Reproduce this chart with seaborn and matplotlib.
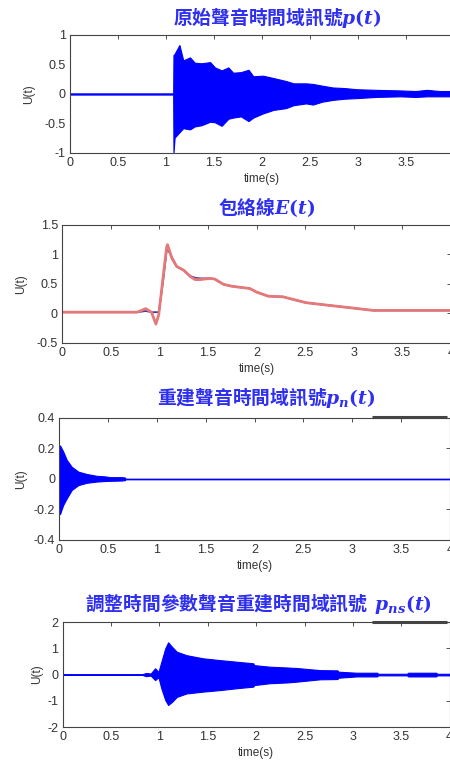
import numpy as np
import matplotlib
matplotlib.use('Agg')
import matplotlib.pyplot as plt
import seaborn as sns
import pandas as pd

# envelope of the recorded signal p(t)
p_t = [0, 1.075, 1.078, 1.09, 1.14, 1.18, 1.25, 1.30, 1.37, 1.46, 1.51, 1.58, 1.65, 1.70, 1.78, 1.86, 1.91,
       2.01, 2.12, 2.25, 2.33, 2.46, 2.53, 2.63, 2.74, 2.86, 2.99, 3.19, 3.44, 3.60, 3.72, 3.85, 4.0]
p_upper = [0.01, 0.01, 0.66, 0.68, 0.83, 0.57, 0.62, 0.53, 0.52, 0.54, 0.45, 0.40, 0.45, 0.36, 0.37, 0.41, 0.30,
           0.31, 0.27, 0.22, 0.18, 0.18, 0.17, 0.14, 0.11, 0.10, 0.08, 0.07, 0.06, 0.05, 0.07, 0.05, 0.05]
p_lower = [-0.01, -0.01, -1.0, -0.74, -0.65, -0.58, -0.60, -0.55, -0.53, -0.47, -0.48, -0.54, -0.42, -0.40, -0.38, -0.46, -0.40,
           -0.33, -0.27, -0.24, -0.19, -0.16, -0.18, -0.13, -0.10, -0.08, -0.07, -0.05, -0.04, -0.05, -0.04, -0.04, -0.04]

# envelope curves E(t)
e_t = [0, 0.77, 0.82, 0.86, 0.92, 0.966, 0.995, 1.04, 1.076, 1.085, 1.13, 1.18, 1.25, 1.32, 1.37,
       1.42, 1.52, 1.57, 1.66, 1.74, 1.83, 1.93, 2.0, 2.12, 2.27, 2.51, 2.72, 2.99, 3.2, 4.0]
e_red = [0.02, 0.02, 0.05, 0.08, 0.02, -0.18, -0.02, 0.62, 1.12, 1.16, 0.93, 0.79, 0.73, 0.62, 0.57,
         0.57, 0.59, 0.58, 0.49, 0.46, 0.44, 0.42, 0.36, 0.29, 0.28, 0.18, 0.14, 0.09, 0.05, 0.05]
e_blue = [0.02, 0.02, 0.03, 0.04, 0.02, 0.02, 0.02, 0.55, 1.06, 1.09, 0.95, 0.79, 0.73, 0.63, 0.60,
          0.59, 0.59, 0.58, 0.49, 0.46, 0.44, 0.42, 0.36, 0.29, 0.28, 0.18, 0.14, 0.09, 0.05, 0.05]

# reconstructed signal pn(t)
n_t = [0, 0.007, 0.04, 0.076, 0.127, 0.195, 0.28, 0.38, 0.47, 0.52, 0.64, 0.67, 0.68, 4.0]
n_upper = [0.21, 0.22, 0.18, 0.125, 0.08, 0.048, 0.033, 0.021, 0.017, 0.012, 0.012, 0.01, 0.002, 0.002]
n_lower = [-0.18, -0.23, -0.17, -0.127, -0.072, -0.04, -0.025, -0.017, -0.013, -0.012, -0.01, -0.008, -0.002, -0.002]

# time adjusted reconstruction pns(t)
s_t = [0, 0.82, 0.86, 0.91, 0.955, 0.99, 1.02, 1.06, 1.09, 1.13, 1.18, 1.28, 1.45, 1.63, 1.80, 1.97, 1.98,
       2.14, 2.32, 2.42, 2.66, 2.84, 2.85, 3.04, 3.25, 3.26, 3.56, 3.57, 3.86, 3.87, 4.0]
s_upper = [0.01, 0.01, 0.06, 0.04, 0.24, 0.10, 0.49, 1.0, 1.23, 1.06, 0.87, 0.74, 0.62, 0.55, 0.49, 0.43, 0.36,
           0.30, 0.27, 0.25, 0.17, 0.16, 0.11, 0.07, 0.07, 0.03, 0.03, 0.07, 0.07, 0.03, 0.03]
s_lower = [-0.01, -0.01, -0.06, -0.04, -0.21, -0.10, -0.53, -0.97, -1.16, -1.04, -0.85, -0.72, -0.65, -0.59, -0.52, -0.46, -0.40,
           -0.33, -0.30, -0.27, -0.18, -0.17, -0.12, -0.07, -0.07, -0.03, -0.03, -0.07, -0.07, -0.03, -0.03]

titles = ['原始聲音時間域訊號$p(t)$', '包絡線$E(t)$', '重建聲音時間域訊號$p_n(t)$', '調整時間參數聲音重建時間域訊號  $p_{ns}(t)$']
ylims = [(-1, 1), (-0.5, 1.5), (-0.4, 0.4), (-2, 2)]
yticks = [[-1, -0.5, 0, 0.5, 1], [-0.5, 0, 0.5, 1, 1.5], [-0.4, -0.2, 0, 0.2, 0.4], [-2, -1, 0, 1, 2]]
xticks = [0, 0.5, 1, 1.5, 2, 2.5, 3, 3.5, 4]

sns.set_style('white')
plt.rcParams['font.family'] = ['Liberation Sans', 'Noto Sans CJK TC', 'DejaVu Sans']
plt.rcParams['mathtext.fontset'] = 'custom'
plt.rcParams['mathtext.it'] = 'DejaVu Serif:italic:bold'
plt.rcParams['mathtext.rm'] = 'DejaVu Serif:bold'
plt.rcParams['mathtext.bf'] = 'DejaVu Serif:bold'

fig = plt.figure(figsize=(4.5, 7.6), dpi=100)
positions = [[0.1556, 0.7987, 0.853, 0.1553],
             [0.1378, 0.5487, 0.8644, 0.1559],
             [0.1318, 0.2895, 0.868, 0.1605],
             [0.1393, 0.0434, 0.86, 0.138]]
title_xy = [(277, 18), (267, 207), (266, 398), (258, 603)]
title_size = [13.5, 13.5, 13.5, 13.5]
ylabel_pad = [7, 7, 5, 3]
axes = [fig.add_axes(p) for p in positions]

blue = '#0000ff'
axes[0].fill_between(p_t, p_lower, p_upper, color=blue, lw=0.8)
axes[2].fill_between(n_t, n_lower, n_upper, color=blue, lw=0.8)
axes[3].fill_between(s_t, s_lower, s_upper, color=blue, lw=0.8)

env = pd.DataFrame({'t': e_t, 'red': e_red, 'blue': e_blue})
sns.lineplot(data=env, x='t', y='blue', ax=axes[1], color='#3a3aa8', lw=1.3)
sns.lineplot(data=env, x='t', y='red', ax=axes[1], color='#e57878', lw=2.0)

for i, ax in enumerate(axes):
    ax.set_xlim(0, 4)
    ax.set_ylim(*ylims[i])
    ax.set_xticks(xticks)
    ax.set_yticks(yticks[i])
    ax.set_xticklabels([f'{v:g}' for v in xticks])
    ax.set_yticklabels([f'{v:g}' for v in yticks[i]])
    ax.tick_params(direction='in', top=True, right=True, length=3, width=0.6,
                   labelsize=9, labelcolor='#333333', color='#333333', pad=3)
    for s in ax.spines.values():
        s.set_color('#444444')
        s.set_linewidth(0.8)
    ax.set_xlabel('time(s)', fontsize=8.5, color='#333333', labelpad=3)
    ax.set_ylabel('U(t)', fontsize=8.5, color='#333333', labelpad=ylabel_pad[i])
    x, y = title_xy[i]
    fig.text(x / 450, 1 - y / 760, titles[i], ha='center', va='center', fontsize=title_size[i],
             fontweight='bold', color='#2f2ff2', family=['Noto Sans CJK TC', 'DejaVu Sans'])

# leftover dark bar on the top frame of the two lower panels
for ax in axes[2:]:
    ax.plot([0.8, 0.993], [1.005, 1.005], transform=ax.transAxes, color='#444444', lw=2.2,
            clip_on=False, solid_capstyle='butt')

fig.savefig('out.png', dpi=100)
